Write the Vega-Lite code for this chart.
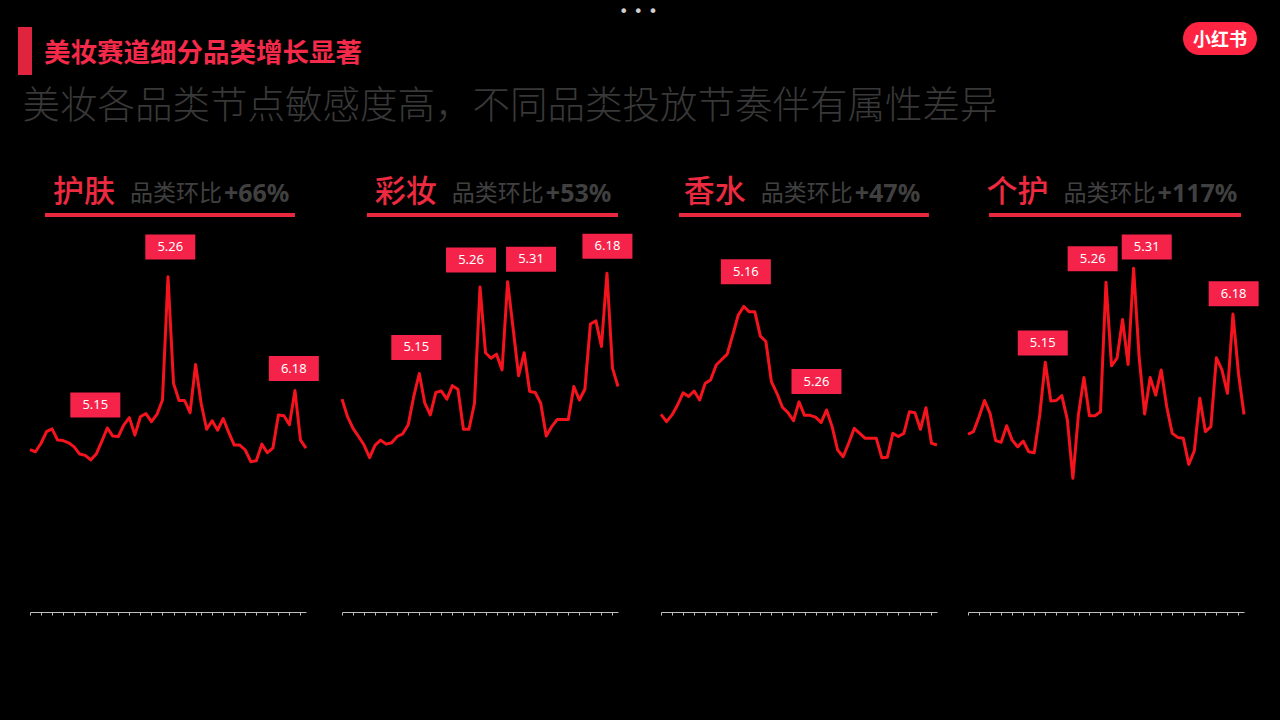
{
"$schema": "https://vega.github.io/schema/vega-lite/v6.json",
"background": "#000000",
"padding": {"left": 18, "top": 4, "right": 22, "bottom": 104},
"title": {"text": "• • •", "anchor": "middle", "offset": 2, "fontSize": 16, "color": "#cfcfcf", "font": "DejaVu Sans", "fontWeight": "normal"},
"config": {"view": {"stroke": null}, "font": "Noto Sans CJK SC",
"axisX": {"labels": false, "title": null, "grid": false, "domainColor": "#bdbdbd", "domainWidth": 1, "tickColor": "#bdbdbd", "tickSize": 3, "tickWidth": 1}},
"datasets": {
"trend": [
{"cat":"护肤","date":"2023-05-01","value":36.1},{"cat":"护肤","date":"2023-05-02","value":35.6},{"cat":"护肤","date":"2023-05-03","value":37.5},{"cat":"护肤","date":"2023-05-04","value":40.1},{"cat":"护肤","date":"2023-05-05","value":40.7},{"cat":"护肤","date":"2023-05-06","value":38.2},{"cat":"护肤","date":"2023-05-07","value":38.1},{"cat":"护肤","date":"2023-05-08","value":37.6},{"cat":"护肤","date":"2023-05-09","value":36.7},{"cat":"护肤","date":"2023-05-10","value":35.1},
{"cat":"护肤","date":"2023-05-11","value":34.8},{"cat":"护肤","date":"2023-05-12","value":33.8},{"cat":"护肤","date":"2023-05-13","value":35.1},{"cat":"护肤","date":"2023-05-14","value":37.9},{"cat":"护肤","date":"2023-05-15","value":40.9},{"cat":"护肤","date":"2023-05-16","value":39.1},{"cat":"护肤","date":"2023-05-17","value":39.0},{"cat":"护肤","date":"2023-05-18","value":41.6},{"cat":"护肤","date":"2023-05-19","value":43.2},{"cat":"护肤","date":"2023-05-20","value":39.3},
{"cat":"护肤","date":"2023-05-21","value":43.4},{"cat":"护肤","date":"2023-05-22","value":44.1},{"cat":"护肤","date":"2023-05-23","value":42.3},{"cat":"护肤","date":"2023-05-24","value":43.9},{"cat":"护肤","date":"2023-05-25","value":47.1},{"cat":"护肤","date":"2023-05-26","value":74.5},{"cat":"护肤","date":"2023-05-27","value":50.8},{"cat":"护肤","date":"2023-05-28","value":47.0},{"cat":"护肤","date":"2023-05-29","value":47.0},{"cat":"护肤","date":"2023-05-30","value":44.3},
{"cat":"护肤","date":"2023-05-31","value":55.0},{"cat":"护肤","date":"2023-06-01","value":46.4},{"cat":"护肤","date":"2023-06-02","value":40.6},{"cat":"护肤","date":"2023-06-03","value":42.5},{"cat":"护肤","date":"2023-06-04","value":40.4},{"cat":"护肤","date":"2023-06-05","value":43.0},{"cat":"护肤","date":"2023-06-06","value":39.9},{"cat":"护肤","date":"2023-06-07","value":37.1},{"cat":"护肤","date":"2023-06-08","value":37.1},{"cat":"护肤","date":"2023-06-09","value":36.0},
{"cat":"护肤","date":"2023-06-10","value":33.4},{"cat":"护肤","date":"2023-06-11","value":33.6},{"cat":"护肤","date":"2023-06-12","value":37.3},{"cat":"护肤","date":"2023-06-13","value":35.4},{"cat":"护肤","date":"2023-06-14","value":36.4},{"cat":"护肤","date":"2023-06-15","value":43.8},{"cat":"护肤","date":"2023-06-16","value":43.6},{"cat":"护肤","date":"2023-06-17","value":41.6},{"cat":"护肤","date":"2023-06-18","value":49.2},{"cat":"护肤","date":"2023-06-19","value":38.2},
{"cat":"护肤","date":"2023-06-20","value":36.4},
{"cat":"彩妆","date":"2023-05-01","value":47.3},{"cat":"彩妆","date":"2023-05-02","value":43.4},{"cat":"彩妆","date":"2023-05-03","value":40.8},{"cat":"彩妆","date":"2023-05-04","value":39.0},{"cat":"彩妆","date":"2023-05-05","value":37.1},{"cat":"彩妆","date":"2023-05-06","value":34.3},{"cat":"彩妆","date":"2023-05-07","value":37.1},{"cat":"彩妆","date":"2023-05-08","value":38.2},{"cat":"彩妆","date":"2023-05-09","value":37.3},{"cat":"彩妆","date":"2023-05-10","value":37.6},
{"cat":"彩妆","date":"2023-05-11","value":39.0},{"cat":"彩妆","date":"2023-05-12","value":39.6},{"cat":"彩妆","date":"2023-05-13","value":41.6},{"cat":"彩妆","date":"2023-05-14","value":47.9},{"cat":"彩妆","date":"2023-05-15","value":53.0},{"cat":"彩妆","date":"2023-05-16","value":46.4},{"cat":"彩妆","date":"2023-05-17","value":43.8},{"cat":"彩妆","date":"2023-05-18","value":48.8},{"cat":"彩妆","date":"2023-05-19","value":49.1},{"cat":"彩妆","date":"2023-05-20","value":47.3},
{"cat":"彩妆","date":"2023-05-21","value":50.3},{"cat":"彩妆","date":"2023-05-22","value":49.5},{"cat":"彩妆","date":"2023-05-23","value":40.6},{"cat":"彩妆","date":"2023-05-24","value":40.6},{"cat":"彩妆","date":"2023-05-25","value":46.4},{"cat":"彩妆","date":"2023-05-26","value":72.2},{"cat":"彩妆","date":"2023-05-27","value":57.6},{"cat":"彩妆","date":"2023-05-28","value":56.4},{"cat":"彩妆","date":"2023-05-29","value":57.3},{"cat":"彩妆","date":"2023-05-30","value":53.8},
{"cat":"彩妆","date":"2023-05-31","value":73.4},{"cat":"彩妆","date":"2023-06-01","value":63.0},{"cat":"彩妆","date":"2023-06-02","value":52.5},{"cat":"彩妆","date":"2023-06-03","value":57.6},{"cat":"彩妆","date":"2023-06-04","value":49.0},{"cat":"彩妆","date":"2023-06-05","value":48.8},{"cat":"彩妆","date":"2023-06-06","value":46.4},{"cat":"彩妆","date":"2023-06-07","value":39.1},{"cat":"彩妆","date":"2023-06-08","value":41.2},{"cat":"彩妆","date":"2023-06-09","value":42.8},
{"cat":"彩妆","date":"2023-06-10","value":42.8},{"cat":"彩妆","date":"2023-06-11","value":42.8},{"cat":"彩妆","date":"2023-06-12","value":50.1},{"cat":"彩妆","date":"2023-06-13","value":47.1},{"cat":"彩妆","date":"2023-06-14","value":49.5},{"cat":"彩妆","date":"2023-06-15","value":64.0},{"cat":"彩妆","date":"2023-06-16","value":64.7},{"cat":"彩妆","date":"2023-06-17","value":59.0},{"cat":"彩妆","date":"2023-06-18","value":75.3},{"cat":"彩妆","date":"2023-06-19","value":54.2},
{"cat":"彩妆","date":"2023-06-20","value":50.1},
{"cat":"香水","date":"2023-05-01","value":43.9},{"cat":"香水","date":"2023-05-02","value":42.3},{"cat":"香水","date":"2023-05-03","value":43.8},{"cat":"香水","date":"2023-05-04","value":46.0},{"cat":"香水","date":"2023-05-05","value":48.7},{"cat":"香水","date":"2023-05-06","value":47.9},{"cat":"香水","date":"2023-05-07","value":49.1},{"cat":"香水","date":"2023-05-08","value":47.1},{"cat":"香水","date":"2023-05-09","value":50.8},{"cat":"香水","date":"2023-05-10","value":51.6},
{"cat":"香水","date":"2023-05-11","value":54.9},{"cat":"香水","date":"2023-05-12","value":56.1},{"cat":"香水","date":"2023-05-13","value":57.3},{"cat":"香水","date":"2023-05-14","value":61.6},{"cat":"香水","date":"2023-05-15","value":66.0},{"cat":"香水","date":"2023-05-16","value":67.9},{"cat":"香水","date":"2023-05-17","value":66.7},{"cat":"香水","date":"2023-05-18","value":66.7},{"cat":"香水","date":"2023-05-19","value":61.3},{"cat":"香水","date":"2023-05-20","value":60.1},
{"cat":"香水","date":"2023-05-21","value":51.2},{"cat":"香水","date":"2023-05-22","value":48.6},{"cat":"香水","date":"2023-05-23","value":45.5},{"cat":"香水","date":"2023-05-24","value":44.3},{"cat":"香水","date":"2023-05-25","value":42.5},{"cat":"香水","date":"2023-05-26","value":46.7},{"cat":"香水","date":"2023-05-27","value":43.7},{"cat":"香水","date":"2023-05-28","value":43.7},{"cat":"香水","date":"2023-05-29","value":43.3},{"cat":"香水","date":"2023-05-30","value":42.1},
{"cat":"香水","date":"2023-05-31","value":44.9},{"cat":"香水","date":"2023-06-01","value":41.2},{"cat":"香水","date":"2023-06-02","value":36.0},{"cat":"香水","date":"2023-06-03","value":34.5},{"cat":"香水","date":"2023-06-04","value":37.5},{"cat":"香水","date":"2023-06-05","value":40.8},{"cat":"香水","date":"2023-06-06","value":39.7},{"cat":"香水","date":"2023-06-07","value":38.6},{"cat":"香水","date":"2023-06-08","value":38.6},{"cat":"香水","date":"2023-06-09","value":38.6},
{"cat":"香水","date":"2023-06-10","value":34.3},{"cat":"香水","date":"2023-06-11","value":34.4},{"cat":"香水","date":"2023-06-12","value":39.7},{"cat":"香水","date":"2023-06-13","value":39.0},{"cat":"香水","date":"2023-06-14","value":39.7},{"cat":"香水","date":"2023-06-15","value":44.5},{"cat":"香水","date":"2023-06-16","value":44.3},{"cat":"香水","date":"2023-06-17","value":40.6},{"cat":"香水","date":"2023-06-18","value":45.4},{"cat":"香水","date":"2023-06-19","value":37.5},
{"cat":"香水","date":"2023-06-20","value":37.1},
{"cat":"个护","date":"2023-05-01","value":39.5},{"cat":"个护","date":"2023-05-02","value":40.1},{"cat":"个护","date":"2023-05-03","value":43.4},{"cat":"个护","date":"2023-05-04","value":47.0},{"cat":"个护","date":"2023-05-05","value":44.1},{"cat":"个护","date":"2023-05-06","value":38.1},{"cat":"个护","date":"2023-05-07","value":37.7},{"cat":"个护","date":"2023-05-08","value":41.4},{"cat":"个护","date":"2023-05-09","value":38.2},{"cat":"个护","date":"2023-05-10","value":36.7},
{"cat":"个护","date":"2023-05-11","value":38.0},{"cat":"个护","date":"2023-05-12","value":35.6},{"cat":"个护","date":"2023-05-13","value":35.4},{"cat":"个护","date":"2023-05-14","value":43.8},{"cat":"个护","date":"2023-05-15","value":55.5},{"cat":"个护","date":"2023-05-16","value":46.9},{"cat":"个护","date":"2023-05-17","value":47.0},{"cat":"个护","date":"2023-05-18","value":48.1},{"cat":"个护","date":"2023-05-19","value":42.7},{"cat":"个护","date":"2023-05-20","value":29.7},
{"cat":"个护","date":"2023-05-21","value":43.8},{"cat":"个护","date":"2023-05-22","value":52.1},{"cat":"个护","date":"2023-05-23","value":43.6},{"cat":"个护","date":"2023-05-24","value":43.6},{"cat":"个护","date":"2023-05-25","value":44.5},{"cat":"个护","date":"2023-05-26","value":73.3},{"cat":"个护","date":"2023-05-27","value":54.7},{"cat":"个护","date":"2023-05-28","value":56.4},{"cat":"个护","date":"2023-05-29","value":65.0},{"cat":"个护","date":"2023-05-30","value":55.0},
{"cat":"个护","date":"2023-05-31","value":76.4},{"cat":"个护","date":"2023-06-01","value":56.7},{"cat":"个护","date":"2023-06-02","value":44.0},{"cat":"个护","date":"2023-06-03","value":52.1},{"cat":"个护","date":"2023-06-04","value":48.2},{"cat":"个护","date":"2023-06-05","value":53.8},{"cat":"个护","date":"2023-06-06","value":45.6},{"cat":"个护","date":"2023-06-07","value":39.7},{"cat":"个护","date":"2023-06-08","value":38.8},{"cat":"个护","date":"2023-06-09","value":38.6},
{"cat":"个护","date":"2023-06-10","value":32.8},{"cat":"个护","date":"2023-06-11","value":35.8},{"cat":"个护","date":"2023-06-12","value":47.5},{"cat":"个护","date":"2023-06-13","value":40.1},{"cat":"个护","date":"2023-06-14","value":41.2},{"cat":"个护","date":"2023-06-15","value":56.5},{"cat":"个护","date":"2023-06-16","value":53.8},{"cat":"个护","date":"2023-06-17","value":48.6},{"cat":"个护","date":"2023-06-18","value":66.2},{"cat":"个护","date":"2023-06-19","value":53.0},
{"cat":"个护","date":"2023-06-20","value":43.9}
],
"notes": [
{"cat":"护肤","label":"5.15","date":"2023-05-12T20:00:00Z","level":46.0},
{"cat":"护肤","label":"5.26","date":"2023-05-26T10:00:00Z","level":81.1},
{"cat":"护肤","label":"6.18","date":"2023-06-17T19:00:00Z","level":54.1},
{"cat":"彩妆","label":"5.15","date":"2023-05-14T11:00:00Z","level":58.8},
{"cat":"彩妆","label":"5.26","date":"2023-05-24T09:00:00Z","level":78.2},
{"cat":"彩妆","label":"5.31","date":"2023-06-04T06:00:00Z","level":78.4},
{"cat":"彩妆","label":"6.18","date":"2023-06-18T02:00:00Z","level":81.3},
{"cat":"香水","label":"5.16","date":"2023-05-16T09:00:00Z","level":75.6},
{"cat":"香水","label":"5.26","date":"2023-05-29T04:00:00Z","level":51.2},
{"cat":"个护","label":"5.15","date":"2023-05-14T13:00:00Z","level":59.8},
{"cat":"个护","label":"5.26","date":"2023-05-23T14:00:00Z","level":78.5},
{"cat":"个护","label":"5.31","date":"2023-06-02T09:00:00Z","level":81.1},
{"cat":"个护","label":"6.18","date":"2023-06-18T03:00:00Z","level":70.7}
],
"heads": [
{"cat":"护肤","growth":"+66%"},
{"cat":"彩妆","growth":"+53%"},
{"cat":"香水","growth":"+47%"},
{"cat":"个护","growth":"+117%"}
]
},
"spacing": 12,
"vconcat": [
{
"hconcat": [
{
"width": 14, "height": 48,
"data": {"values": [{"section": "美妆赛道细分品类增长显著"}]},
"mark": {"type": "rect", "color": "#e0243e", "xOffset": -12, "x2Offset": -12},
"encoding": {"x": {"value": 0}, "x2": {"value": "width"}, "y": {"value": 0}, "y2": {"value": "height"}},
"title": {"text": "美妆赛道细分品类增长显著", "orient": "right", "angle": 0, "anchor": "middle", "align": "right", "baseline": "middle", "dy": 3, "offset": 0, "fontSize": 26.5, "fontWeight": "bold", "color": "#f42a4a", "font": "Noto Sans CJK SC"}
},
{
"width": 74, "height": 33,
"data": {"values": [{"brand": "小红书"}]},
"layer": [
{"mark": {"type": "rect", "color": "#ff2442", "cornerRadius": 16.5, "yOffset": -5, "y2Offset": -5}, "encoding": {"x": {"value": 0}, "x2": {"value": "width"}, "y": {"value": 0}, "y2": {"value": "height"}}},
{"mark": {"type": "text", "color": "#ffffff", "fontSize": 18, "fontWeight": "bold", "baseline": "middle", "align": "center", "yOffset": -3}, "encoding": {"text": {"field": "brand"}}}
]
}
],
"spacing": 1139,
"bounds": "flush"
},
{
"title": {"text": "美妆各品类节点敏感度高，不同品类投放节奏伴有属性差异", "anchor": "start", "dx": -6, "offset": 37, "fontSize": 37.5, "fontWeight": 300, "color": "#383838", "font": "Noto Sans CJK SC"},
"spacing": 26,
"hconcat": [
{
"spacing": 36, "bounds": "flush",
"hconcat": [
{
"width": 276, "height": 450,
"layer": [
{"data": {"name": "trend"}, "transform": [{"filter": {"field": "cat", "equal": "护肤"}}],
"mark": {"type": "line", "color": "#f5141e", "strokeWidth": 3, "strokeJoin": "round"},
"encoding": {
"x": {"field": "date", "type": "temporal", "scale": {"type": "utc", "domain": [{"year": 2023, "month": 5, "date": 1, "utc": true}, {"year": 2023, "month": 6, "date": 20, "utc": true}]}, "axis": {"tickCount": {"interval": "day", "step": 2}}},
"y": {"field": "value", "type": "quantitative", "scale": {"domain": [0, 100]}, "axis": null}}},
{"data": {"name": "notes"}, "transform": [{"filter": {"field": "cat", "equal": "护肤"}}],
"layer": [
{"mark": {"type": "rect", "color": "#f5234a", "xOffset": -25, "x2Offset": 25, "yOffset": -12.5, "y2Offset": 12.5},
"encoding": {"x": {"field": "date", "type": "temporal"}, "x2": {"field": "date"}, "y": {"field": "level", "type": "quantitative", "axis": null}, "y2": {"field": "level"}}},
{"mark": {"type": "text", "color": "#ffffff", "fontSize": 13, "font": "Noto Sans", "baseline": "middle"},
"encoding": {"x": {"field": "date", "type": "temporal"}, "y": {"field": "level", "type": "quantitative", "axis": null}, "text": {"field": "label"}}}
]},
{"data": {"name": "heads"}, "transform": [{"filter": {"field": "cat", "equal": "护肤"}}],
"layer": [
{"mark": {"type": "rule", "color": "#e8283f", "strokeWidth": 4}, "encoding": {"x": {"datum": {"year": 2023, "month": 5, "date": 3, "hours": 17, "utc": true}, "type": "temporal"}, "x2": {"datum": {"year": 2023, "month": 6, "date": 18, "utc": true}}, "y": {"datum": 88.2, "type": "quantitative", "axis": null}}},
{"mark": {"type": "text", "align": "right", "baseline": "middle", "dx": -7.5, "fontSize": 31, "fontWeight": 500, "color": "#ec2a40"}, "encoding": {"x": {"datum": {"year": 2023, "month": 5, "date": 17, "hours": 18, "utc": true}, "type": "temporal"}, "y": {"datum": 93.2, "type": "quantitative", "axis": null}, "text": {"field": "cat"}}},
{"mark": {"type": "text", "align": "left", "baseline": "middle", "dx": 7.5, "fontSize": 23, "color": "#404040", "text": "品类环比"}, "encoding": {"x": {"datum": {"year": 2023, "month": 5, "date": 17, "hours": 18, "utc": true}, "type": "temporal"}, "y": {"datum": 92.8, "type": "quantitative", "axis": null}}},
{"mark": {"type": "text", "align": "left", "baseline": "middle", "dx": 101.5, "fontSize": 25, "fontWeight": "bold", "font": "Noto Sans", "color": "#404040"}, "encoding": {"x": {"datum": {"year": 2023, "month": 5, "date": 17, "hours": 18, "utc": true}, "type": "temporal"}, "y": {"datum": 92.8, "type": "quantitative", "axis": null}, "text": {"field": "growth"}}}
]}
]
},
{
"width": 276, "height": 450,
"layer": [
{"data": {"name": "trend"}, "transform": [{"filter": {"field": "cat", "equal": "彩妆"}}],
"mark": {"type": "line", "color": "#f5141e", "strokeWidth": 3, "strokeJoin": "round"},
"encoding": {
"x": {"field": "date", "type": "temporal", "scale": {"type": "utc", "domain": [{"year": 2023, "month": 5, "date": 1, "utc": true}, {"year": 2023, "month": 6, "date": 20, "utc": true}]}, "axis": {"tickCount": {"interval": "day", "step": 2}}},
"y": {"field": "value", "type": "quantitative", "scale": {"domain": [0, 100]}, "axis": null}}},
{"data": {"name": "notes"}, "transform": [{"filter": {"field": "cat", "equal": "彩妆"}}],
"layer": [
{"mark": {"type": "rect", "color": "#f5234a", "xOffset": -25, "x2Offset": 25, "yOffset": -12.5, "y2Offset": 12.5},
"encoding": {"x": {"field": "date", "type": "temporal"}, "x2": {"field": "date"}, "y": {"field": "level", "type": "quantitative", "axis": null}, "y2": {"field": "level"}}},
{"mark": {"type": "text", "color": "#ffffff", "fontSize": 13, "font": "Noto Sans", "baseline": "middle"},
"encoding": {"x": {"field": "date", "type": "temporal"}, "y": {"field": "level", "type": "quantitative", "axis": null}, "text": {"field": "label"}}}
]},
{"data": {"name": "heads"}, "transform": [{"filter": {"field": "cat", "equal": "彩妆"}}],
"layer": [
{"mark": {"type": "rule", "color": "#e8283f", "strokeWidth": 4}, "encoding": {"x": {"datum": {"year": 2023, "month": 5, "date": 5, "hours": 12, "utc": true}, "type": "temporal"}, "x2": {"datum": {"year": 2023, "month": 6, "date": 20, "utc": true}}, "y": {"datum": 88.2, "type": "quantitative", "axis": null}}},
{"mark": {"type": "text", "align": "right", "baseline": "middle", "dx": -7.5, "fontSize": 31, "fontWeight": 500, "color": "#ec2a40"}, "encoding": {"x": {"datum": {"year": 2023, "month": 5, "date": 19, "hours": 13, "utc": true}, "type": "temporal"}, "y": {"datum": 93.2, "type": "quantitative", "axis": null}, "text": {"field": "cat"}}},
{"mark": {"type": "text", "align": "left", "baseline": "middle", "dx": 7.5, "fontSize": 23, "color": "#404040", "text": "品类环比"}, "encoding": {"x": {"datum": {"year": 2023, "month": 5, "date": 19, "hours": 13, "utc": true}, "type": "temporal"}, "y": {"datum": 92.8, "type": "quantitative", "axis": null}}},
{"mark": {"type": "text", "align": "left", "baseline": "middle", "dx": 101.5, "fontSize": 25, "fontWeight": "bold", "font": "Noto Sans", "color": "#404040"}, "encoding": {"x": {"datum": {"year": 2023, "month": 5, "date": 19, "hours": 13, "utc": true}, "type": "temporal"}, "y": {"datum": 92.8, "type": "quantitative", "axis": null}, "text": {"field": "growth"}}}
]}
]
}
]
},
{
"spacing": 31, "bounds": "flush",
"hconcat": [
{
"width": 276, "height": 450,
"layer": [
{"data": {"name": "trend"}, "transform": [{"filter": {"field": "cat", "equal": "香水"}}],
"mark": {"type": "line", "color": "#f5141e", "strokeWidth": 3, "strokeJoin": "round"},
"encoding": {
"x": {"field": "date", "type": "temporal", "scale": {"type": "utc", "domain": [{"year": 2023, "month": 5, "date": 1, "utc": true}, {"year": 2023, "month": 6, "date": 20, "utc": true}]}, "axis": {"tickCount": {"interval": "day", "step": 2}}},
"y": {"field": "value", "type": "quantitative", "scale": {"domain": [0, 100]}, "axis": null}}},
{"data": {"name": "notes"}, "transform": [{"filter": {"field": "cat", "equal": "香水"}}],
"layer": [
{"mark": {"type": "rect", "color": "#f5234a", "xOffset": -25, "x2Offset": 25, "yOffset": -12.5, "y2Offset": 12.5},
"encoding": {"x": {"field": "date", "type": "temporal"}, "x2": {"field": "date"}, "y": {"field": "level", "type": "quantitative", "axis": null}, "y2": {"field": "level"}}},
{"mark": {"type": "text", "color": "#ffffff", "fontSize": 13, "font": "Noto Sans", "baseline": "middle"},
"encoding": {"x": {"field": "date", "type": "temporal"}, "y": {"field": "level", "type": "quantitative", "axis": null}, "text": {"field": "label"}}}
]},
{"data": {"name": "heads"}, "transform": [{"filter": {"field": "cat", "equal": "香水"}}],
"layer": [
{"mark": {"type": "rule", "color": "#e8283f", "strokeWidth": 4}, "encoding": {"x": {"datum": {"year": 2023, "month": 5, "date": 4, "hours": 6, "utc": true}, "type": "temporal"}, "x2": {"datum": {"year": 2023, "month": 6, "date": 18, "hours": 13, "utc": true}}, "y": {"datum": 88.2, "type": "quantitative", "axis": null}}},
{"mark": {"type": "text", "align": "right", "baseline": "middle", "dx": -7.5, "fontSize": 31, "fontWeight": 500, "color": "#ec2a40"}, "encoding": {"x": {"datum": {"year": 2023, "month": 5, "date": 17, "hours": 17, "utc": true}, "type": "temporal"}, "y": {"datum": 93.2, "type": "quantitative", "axis": null}, "text": {"field": "cat"}}},
{"mark": {"type": "text", "align": "left", "baseline": "middle", "dx": 7.5, "fontSize": 23, "color": "#404040", "text": "品类环比"}, "encoding": {"x": {"datum": {"year": 2023, "month": 5, "date": 17, "hours": 17, "utc": true}, "type": "temporal"}, "y": {"datum": 92.8, "type": "quantitative", "axis": null}}},
{"mark": {"type": "text", "align": "left", "baseline": "middle", "dx": 101.5, "fontSize": 25, "fontWeight": "bold", "font": "Noto Sans", "color": "#404040"}, "encoding": {"x": {"datum": {"year": 2023, "month": 5, "date": 17, "hours": 17, "utc": true}, "type": "temporal"}, "y": {"datum": 92.8, "type": "quantitative", "axis": null}, "text": {"field": "growth"}}}
]}
]
},
{
"width": 276, "height": 450,
"layer": [
{"data": {"name": "trend"}, "transform": [{"filter": {"field": "cat", "equal": "个护"}}],
"mark": {"type": "line", "color": "#f5141e", "strokeWidth": 3, "strokeJoin": "round"},
"encoding": {
"x": {"field": "date", "type": "temporal", "scale": {"type": "utc", "domain": [{"year": 2023, "month": 5, "date": 1, "utc": true}, {"year": 2023, "month": 6, "date": 20, "utc": true}]}, "axis": {"tickCount": {"interval": "day", "step": 2}}},
"y": {"field": "value", "type": "quantitative", "scale": {"domain": [0, 100]}, "axis": null}}},
{"data": {"name": "notes"}, "transform": [{"filter": {"field": "cat", "equal": "个护"}}],
"layer": [
{"mark": {"type": "rect", "color": "#f5234a", "xOffset": -25, "x2Offset": 25, "yOffset": -12.5, "y2Offset": 12.5},
"encoding": {"x": {"field": "date", "type": "temporal"}, "x2": {"field": "date"}, "y": {"field": "level", "type": "quantitative", "axis": null}, "y2": {"field": "level"}}},
{"mark": {"type": "text", "color": "#ffffff", "fontSize": 13, "font": "Noto Sans", "baseline": "middle"},
"encoding": {"x": {"field": "date", "type": "temporal"}, "y": {"field": "level", "type": "quantitative", "axis": null}, "text": {"field": "label"}}}
]},
{"data": {"name": "heads"}, "transform": [{"filter": {"field": "cat", "equal": "个护"}}],
"layer": [
{"mark": {"type": "rule", "color": "#e8283f", "strokeWidth": 4}, "encoding": {"x": {"datum": {"year": 2023, "month": 5, "date": 4, "hours": 19, "utc": true}, "type": "temporal"}, "x2": {"datum": {"year": 2023, "month": 6, "date": 19, "hours": 11, "utc": true}}, "y": {"datum": 88.2, "type": "quantitative", "axis": null}}},
{"mark": {"type": "text", "align": "right", "baseline": "middle", "dx": -7.5, "fontSize": 31, "fontWeight": 500, "color": "#ec2a40"}, "encoding": {"x": {"datum": {"year": 2023, "month": 5, "date": 16, "hours": 23, "utc": true}, "type": "temporal"}, "y": {"datum": 93.2, "type": "quantitative", "axis": null}, "text": {"field": "cat"}}},
{"mark": {"type": "text", "align": "left", "baseline": "middle", "dx": 7.5, "fontSize": 23, "color": "#404040", "text": "品类环比"}, "encoding": {"x": {"datum": {"year": 2023, "month": 5, "date": 16, "hours": 23, "utc": true}, "type": "temporal"}, "y": {"datum": 92.8, "type": "quantitative", "axis": null}}},
{"mark": {"type": "text", "align": "left", "baseline": "middle", "dx": 101.5, "fontSize": 25, "fontWeight": "bold", "font": "Noto Sans", "color": "#404040"}, "encoding": {"x": {"datum": {"year": 2023, "month": 5, "date": 16, "hours": 23, "utc": true}, "type": "temporal"}, "y": {"datum": 92.8, "type": "quantitative", "axis": null}, "text": {"field": "growth"}}}
]}
]
}
]
}
]
}
]
}
